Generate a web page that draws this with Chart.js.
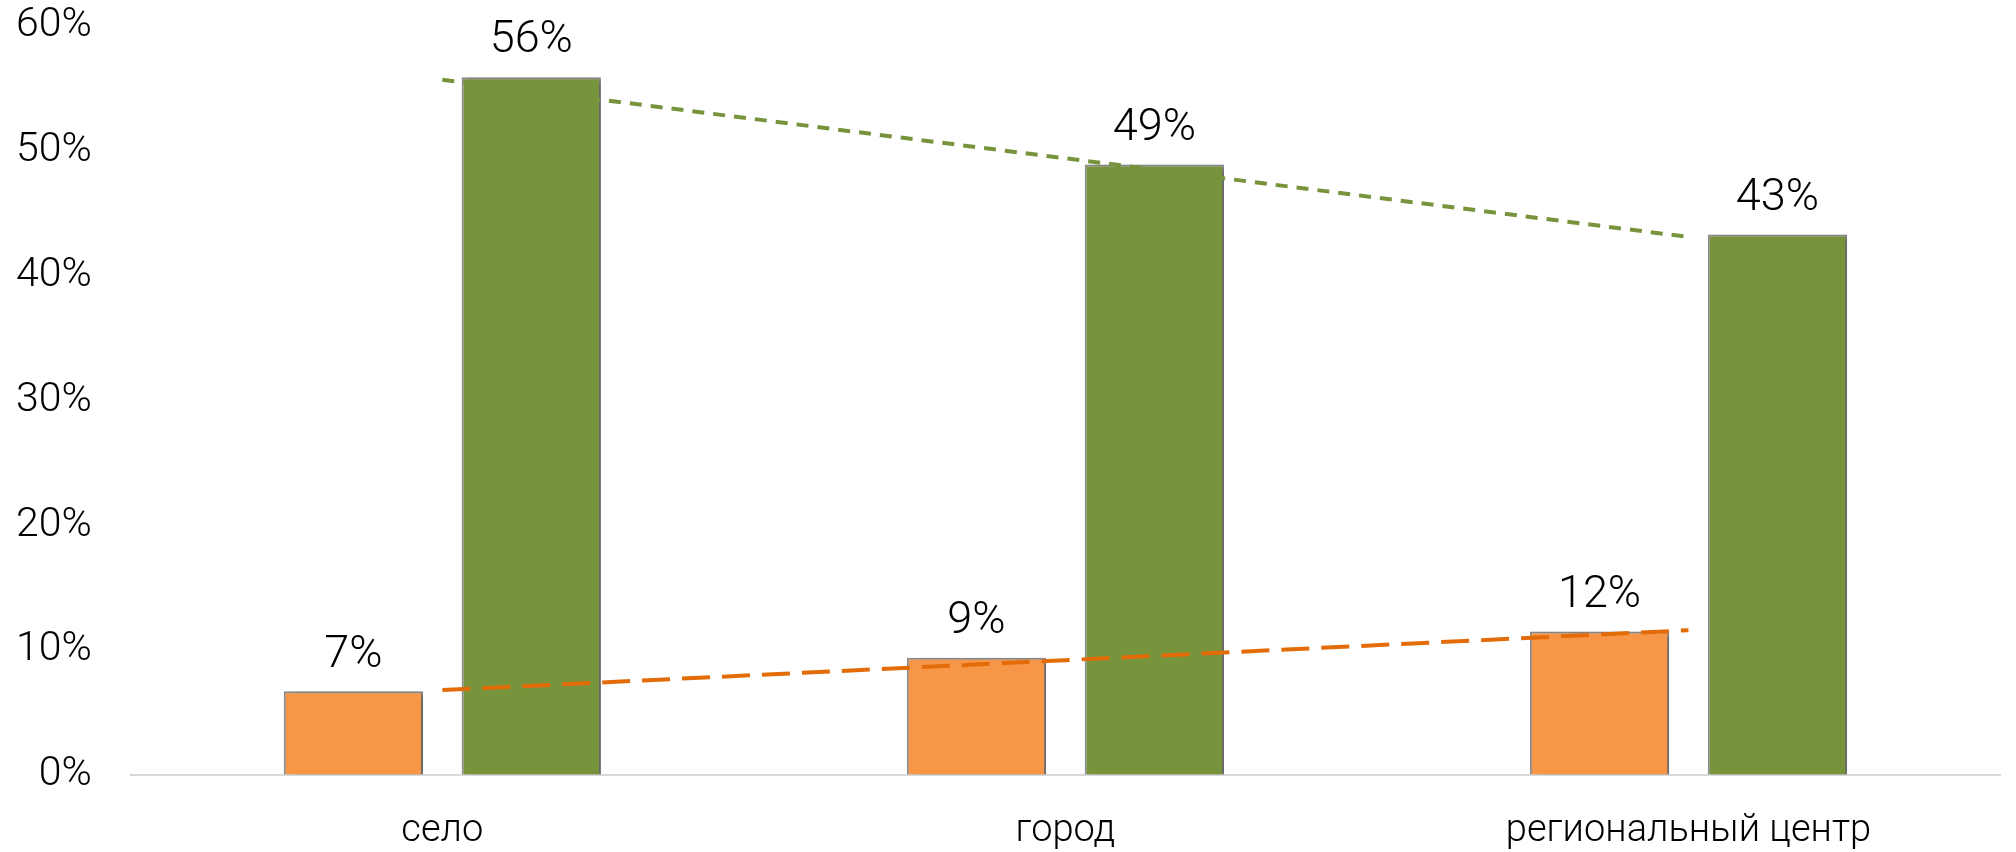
<!DOCTYPE html>
<html>
<head>
<meta charset="utf-8">
<script src="https://cdn.jsdelivr.net/npm/chart.js@4"></script>
<style>
    body { margin: 0; background: #fff; }
    #wrap { width: 2016px; height: 852px; }
</style>
</head>
<body>
<div id="wrap"><canvas id="chart"></canvas></div>
<script>
// Data (percent)
const categories = ["село", "город", "региональный центр"];
const orangeValues = [6.7, 9.4, 11.5];
const greenValues = [55.9, 48.9, 43.3];
// Trend lines (linear, as in the original)
const orangeTrend = [6.8, 9.2, 11.6];
const greenTrend = [55.7, 49.4, 43.1];
const yTicks = [0, 10, 20, 30, 40, 50, 60];

const fontFamily = "Roboto, 'Open Sans', sans-serif";

// soft shadow behind bars
const barShadow = {
    id: "barShadow",
    beforeDatasetDraw(chart, args) {
        if (args.meta.type !== "bar") return;
        const ctx = chart.ctx;
        ctx.save();
        ctx.shadowColor = "rgba(0,0,0,0.3)";
        ctx.shadowBlur = 6;
        ctx.shadowOffsetX = 4;
        ctx.shadowOffsetY = 2;
    },
    afterDatasetDraw(chart, args) {
        if (args.meta.type !== "bar") return;
        chart.ctx.restore();
    }
};

// value labels above the bars
const barLabels = {
    id: "barLabels",
    afterDatasetsDraw(chart) {
        const ctx = chart.ctx;
        ctx.save();
        ctx.font = "300 45px " + fontFamily;
        ctx.fillStyle = "#000";
        ctx.textAlign = "center";
        ctx.textBaseline = "middle";
        chart.data.datasets.forEach(function (ds, i) {
            const meta = chart.getDatasetMeta(i);
            if (meta.type !== "bar") return;
            meta.data.forEach(function (bar, j) {
                ctx.fillText(Math.round(ds.data[j]) + "%", bar.x, bar.y - 36);
            });
        });
        ctx.restore();
    }
};

new Chart(document.getElementById("chart"), {
    type: "bar",
    data: {
        labels: categories,
        datasets: [
            {
                type: "line",
                data: orangeTrend,
                borderColor: "#E36C09",
                borderWidth: 4,
                borderDash: [28, 12],
                pointRadius: 0,
                fill: false,
                order: 0
            },
            {
                type: "line",
                data: greenTrend,
                borderColor: "#77933C",
                borderWidth: 4,
                borderDash: [12, 9],
                pointRadius: 0,
                fill: false,
                order: 0
            },
            {
                data: orangeValues,
                backgroundColor: "#F79646",
                borderColor: "#8C8C8C",
                borderWidth: 2,
                categoryPercentage: 0.571,
                barPercentage: 0.783,
                order: 1
            },
            {
                data: greenValues,
                backgroundColor: "#77933C",
                borderColor: "#8C8C8C",
                borderWidth: 2,
                categoryPercentage: 0.571,
                barPercentage: 0.783,
                order: 1
            }
        ]
    },
    options: {
        responsive: true,
        maintainAspectRatio: false,
        animation: false,
        devicePixelRatio: 1,
        layout: { padding: { left: 16, right: 16, top: 26, bottom: -35 } },
        plugins: {
            legend: { display: false },
            tooltip: { enabled: false }
        },
        scales: {
            x: {
                grid: { display: false, drawTicks: false },
                border: { color: "#D9D9D9", width: 2 },
                ticks: {
                    color: "#000",
                    padding: 37,
                    font: { family: fontFamily, size: 38, weight: 300, lineHeight: 1 }
                }
            },
            y: {
                min: 0,
                max: 60,
                // invisible tick marks give the gap between labels and bars
                grid: { display: true, drawOnChartArea: false, drawTicks: true, tickLength: 39, color: "rgba(0,0,0,0)" },
                border: { display: false },
                afterBuildTicks: function (axis) {
                    axis.ticks = yTicks.map(function (v) { return { value: v }; });
                },
                ticks: {
                    color: "#000",
                    padding: 0,
                    font: { family: fontFamily, size: 41, weight: 300 },
                    callback: function (v) { return v + "%"; }
                }
            }
        }
    },
    plugins: [barShadow, barLabels]
});
</script>
</body>
</html>
